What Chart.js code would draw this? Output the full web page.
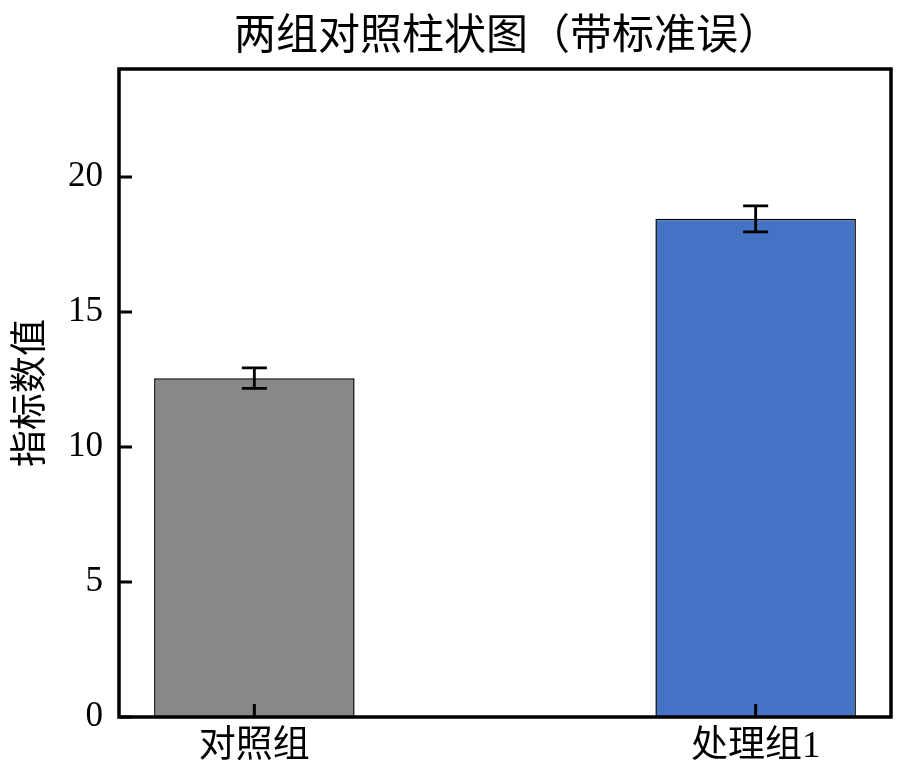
<!DOCTYPE html>
<html>
<head>
<meta charset="utf-8">
<script src="https://cdn.jsdelivr.net/npm/chart.js@4"></script>
<style>
  html, body { margin: 0; padding: 0; background: #fff; }
  #wrap { width: 906px; height: 783px; }
</style>
</head>
<body>
<div id="wrap"><canvas id="bar-chart" width="906" height="783"></canvas></div>
<script>
var categories = ["对照组", "处理组1"]
var xPositions = [0, 1]
var means = [12.55, 18.45]
var errors = [0.38, 0.48]
var barColors = ["#888888", "#4472C4"]
var yTicks = [0, 5, 10, 15, 20]

var chartTitle = "两组对照柱状图（带标准误）"
var yLabel = "指标数值"
var serifFont = "'Liberation Serif', 'Noto Sans CJK SC', serif"

// error bars, frame, inward ticks, title
var extras = {
    id: 'extras',
    afterDatasetsDraw: function (chart) {
        var ctx = chart.ctx;
        var xs = chart.scales.x, ys = chart.scales.y;
        ctx.save();
        ctx.strokeStyle = '#000';
        ctx.lineWidth = 2.8;
        for (var i = 0; i < means.length; i++) {
            var px = xs.getPixelForValue(xPositions[i]);
            var top = ys.getPixelForValue(means[i] + errors[i]);
            var bot = ys.getPixelForValue(means[i] - errors[i]);
            ctx.beginPath();
            ctx.moveTo(px, top); ctx.lineTo(px, bot);
            ctx.moveTo(px - 12.5, top); ctx.lineTo(px + 12.5, top);
            ctx.moveTo(px - 12.5, bot); ctx.lineTo(px + 12.5, bot);
            ctx.stroke();
        }
        var a = chart.chartArea;
        // inward ticks
        ctx.lineWidth = 3;
        ctx.beginPath();
        yTicks.forEach(function (v) {
            var py = ys.getPixelForValue(v);
            ctx.moveTo(a.left, py); ctx.lineTo(a.left + 13, py);
        });
        xPositions.forEach(function (v) {
            var px = xs.getPixelForValue(v);
            ctx.moveTo(px, a.bottom); ctx.lineTo(px, a.bottom - 13);
        });
        ctx.stroke();
        // frame
        ctx.lineWidth = 3.5;
        ctx.strokeRect(a.left, a.top, a.right - a.left, a.bottom - a.top);
        // title
        ctx.fillStyle = '#000';
        ctx.font = "42px 'Noto Sans CJK SC', sans-serif";
        ctx.textAlign = 'center';
        ctx.textBaseline = 'middle';
        ctx.fillText(chartTitle, (a.left + a.right) / 2 + 2, 33);
        ctx.restore();
    }
};

var myChart = new Chart(document.getElementById("bar-chart"), {
    type: 'bar',
    data: {
        datasets: [{
            data: xPositions.map(function (x, i) { return { x: x, y: means[i] }; }),
            backgroundColor: barColors,
            borderColor: '#000',
            borderWidth: 1.5,
            borderSkipped: false,
            categoryPercentage: 1.0,
            barPercentage: 0.4
        }]
    },
    options: {
        responsive: false,
        animation: false,
        maintainAspectRatio: false,
        layout: { padding: { top: 69, right: 15, left: 0, bottom: 0 } },
        plugins: {
            legend: { display: false },
            tooltip: { enabled: false }
        },
        scales: {
            x: {
                type: 'linear',
                offset: false,
                min: -0.27,
                max: 1.27,
                afterBuildTicks: function (scale) {
                    scale.ticks = xPositions.map(function (v) { return { value: v }; });
                },
                afterFit: function (scale) { scale.height = 66; },
                grid: { display: false, drawTicks: false },
                border: { display: false },
                ticks: {
                    padding: 8,
                    color: '#000',
                    font: { family: serifFont, size: 37 },
                    callback: function (v) { return categories[xPositions.indexOf(v)]; }
                }
            },
            y: {
                min: 0,
                max: 24,
                afterBuildTicks: function (scale) {
                    scale.ticks = yTicks.map(function (v) { return { value: v }; });
                },
                afterFit: function (scale) { scale.width = 119; },
                grid: { display: false, drawTicks: false },
                border: { display: false },
                title: {
                    display: true,
                    text: yLabel,
                    color: '#000',
                    font: { family: "'Noto Sans CJK SC', sans-serif", size: 37 },
                    padding: { top: 6, bottom: 0 }
                },
                ticks: {
                    padding: 16,
                    color: '#000',
                    font: { family: serifFont, size: 35 }
                }
            }
        }
    },
    plugins: [extras]
});
</script>
</body>
</html>
